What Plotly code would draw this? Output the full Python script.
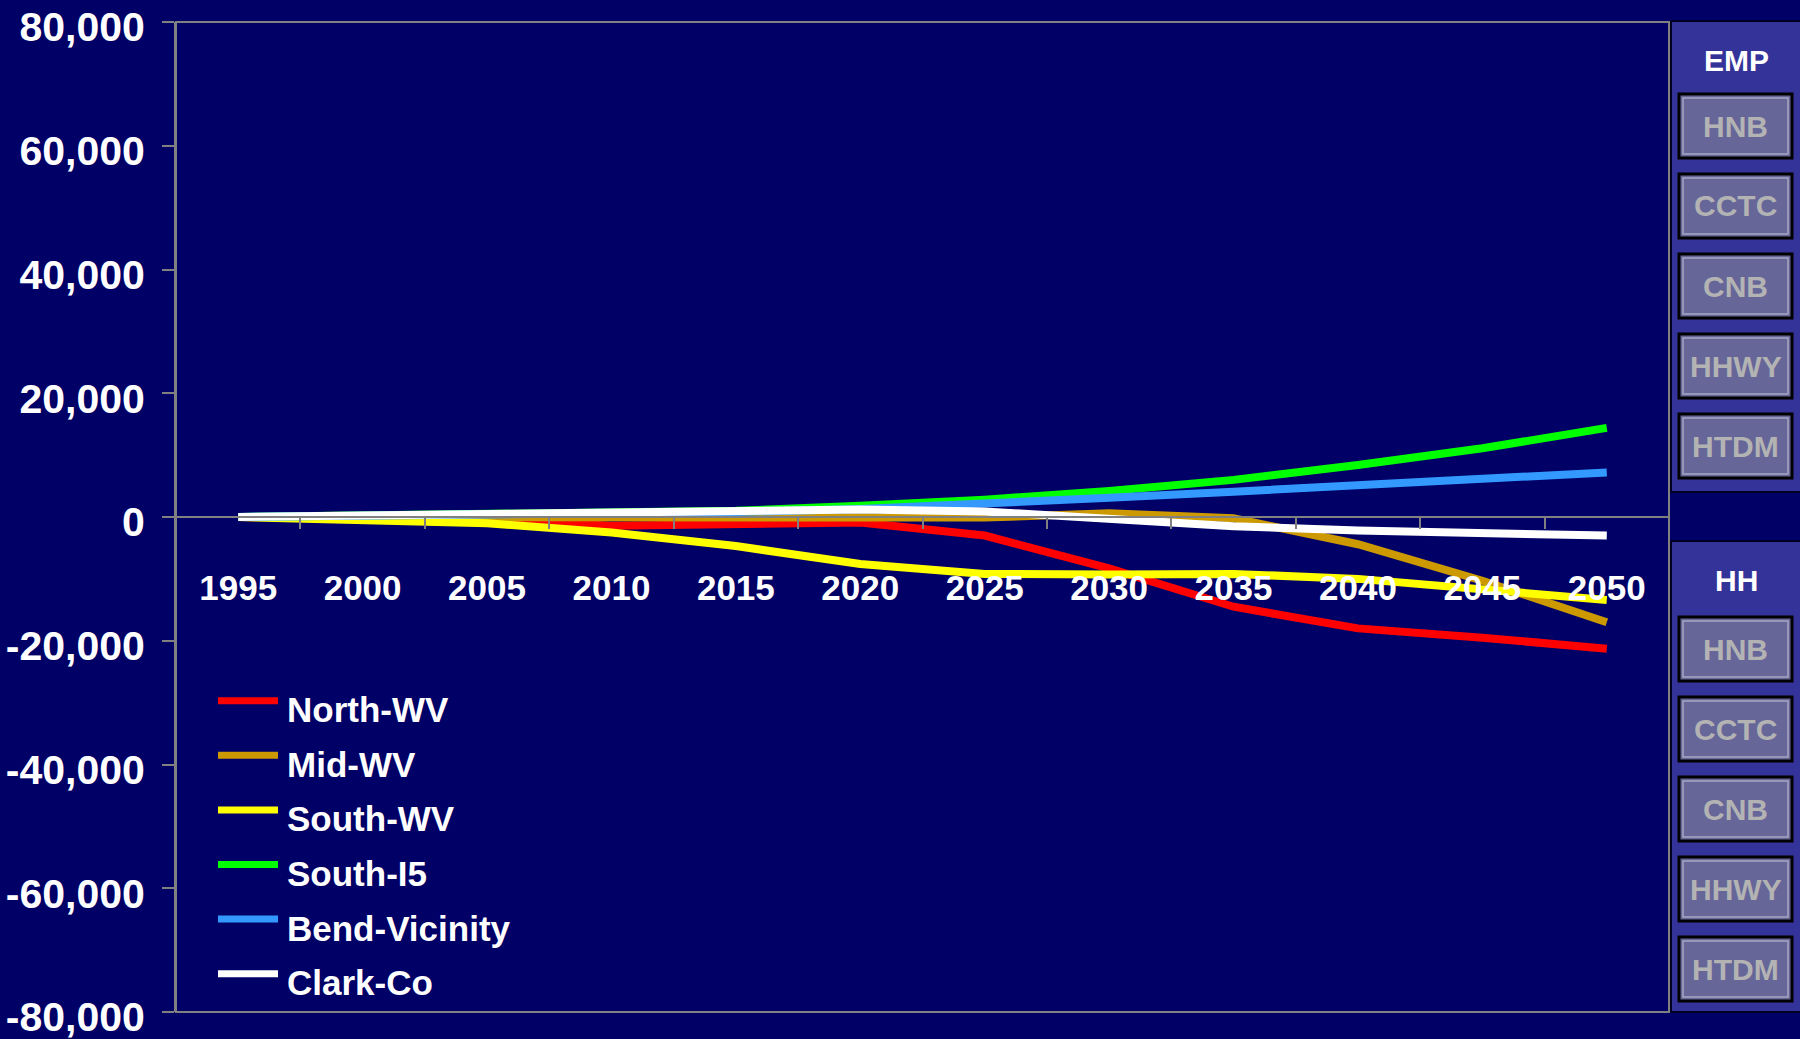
import plotly.graph_objects as go

# ---------------- data ----------------
years = ["1995", "2000", "2005", "2010", "2015", "2020", "2025", "2030", "2035", "2040", "2045", "2050"]
north_wv = [0, -100, -300, -1400, -1100, -900, -3000, -8300, -14500, -18000, -19500, -21300]
mid_wv = [0, 0, -100, -200, -300, -200, -100, 600, -200, -4400, -10300, -17000]
south_wv = [0, -500, -1000, -2500, -4700, -7600, -9200, -9300, -9200, -10000, -11600, -13400]
south_i5 = [0, 200, 400, 700, 1000, 1800, 2800, 4200, 6000, 8400, 11100, 14400]
bend_vicinity = [0, 150, 300, 500, 800, 1300, 2100, 3100, 4100, 5200, 6200, 7200]
clark_co = [0, 250, 450, 700, 1000, 1200, 900, -300, -1500, -2200, -2600, -3000]

series_names = ["North-WV", "Mid-WV", "South-WV", "South-I5", "Bend-Vicinity", "Clark-Co"]
series_values = [north_wv, mid_wv, south_wv, south_i5, bend_vicinity, clark_co]
series_colors = ["#FF0000", "#CC9900", "#FFFF00", "#00FF00", "#3399FF", "#FFFFFF"]

y_tick_vals = [80000, 60000, 40000, 20000, 0, -20000, -40000, -60000, -80000]
y_tick_text = ["80,000", "60,000", "40,000", "20,000", "0", "-20,000", "-40,000", "-60,000", "-80,000"]

panel_titles = ["EMP", "HH"]
button_labels = ["HNB", "CCTC", "CNB", "HHWY", "HTDM"]

# ---------------- layout geometry ----------------
W, H = 1800, 1039
L, R, T, B = 176, 131, 22, 27
PW, PH = W - L - R, H - T - B
BG = "#000066"
GRAY = "#808080"
SANS = "Liberation Sans, Arial, sans-serif"


def px(x):
    return (x - L) / PW


def py(y):
    return (H - B - y) / PH


fig = go.Figure()
for name, vals, col in zip(series_names, series_values, series_colors):
    fig.add_trace(go.Scatter(x=years, y=vals, mode="lines", name=name,
                             line=dict(color=col, width=8), showlegend=False,
                             hoverinfo="skip"))

shapes = []
annotations = []

# plot frame
shapes.append(dict(type="rect", xref="paper", yref="paper", x0=0, x1=1, y0=0, y1=1,
                   line=dict(color=GRAY, width=2), layer="below"))

# custom legend
leg_y0, leg_dy = 700.7, 54.6
for i, (name, col) in enumerate(zip(series_names, series_colors)):
    ly = leg_y0 + i * leg_dy
    shapes.append(dict(type="line", xref="paper", yref="paper",
                       x0=px(218), x1=px(278), y0=py(ly), y1=py(ly),
                       line=dict(color=col, width=7)))
    annotations.append(dict(xref="paper", yref="paper", x=px(285), y=py(ly + 9),
                            xanchor="left", yanchor="middle", showarrow=False,
                            text=name, font=dict(family=SANS, size=35, color="white", weight="bold")))

# right-hand navigation panels
panel_tops = [21, 541]
title_centers = [60, 580]
button_tops = [94, 617]
for p in range(2):
    shapes.append(dict(type="rect", xref="paper", yref="paper",
                       x0=px(1671), x1=px(1803), y0=py(panel_tops[p]), y1=py(panel_tops[p] + 471),
                       fillcolor="#333399", line=dict(color="#000022", width=2)))
    annotations.append(dict(xref="paper", yref="paper", x=px(1736), y=py(title_centers[p]),
                            xanchor="center", yanchor="middle", showarrow=False,
                            text=panel_titles[p], font=dict(family=SANS, size=30, color="white", weight="bold")))
    for j, lab in enumerate(button_labels):
        t0 = button_tops[p] + j * 80
        b0 = t0 + 64
        shapes.append(dict(type="rect", xref="paper", yref="paper",
                           x0=px(1679), x1=px(1792), y0=py(t0), y1=py(b0),
                           fillcolor="#666699", line=dict(color="#000000", width=3)))
        shapes.append(dict(type="rect", xref="paper", yref="paper",
                           x0=px(1683), x1=px(1788), y0=py(t0 + 4), y1=py(b0 - 4),
                           line=dict(color="#a6a6c4", width=1.5)))
        annotations.append(dict(xref="paper", yref="paper", x=px(1735.5), y=py((t0 + b0) / 2),
                                xanchor="center", yanchor="middle", showarrow=False,
                                text=lab, font=dict(family=SANS, size=30, color="#b3b3b3", weight="bold")))

fig.update_layout(
    template="none",
    width=W, height=H,
    margin=dict(l=L, r=R, t=T, b=B, pad=0, autoexpand=False),
    paper_bgcolor=BG, plot_bgcolor=BG,
    showlegend=False,
    shapes=shapes, annotations=annotations,
    xaxis=dict(type="category", range=[-0.5, 11.5], anchor="free", position=0.5,
               automargin=False,
               showline=True, linecolor=GRAY, linewidth=2,
               ticks="outside", tickson="boundaries", ticklen=11, tickcolor=GRAY, tickwidth=1.5,
               showgrid=False, zeroline=False, ticklabelstandoff=40,
               tickfont=dict(family=SANS, size=35, color="white", weight="bold")),
    yaxis=dict(range=[-80000, 80000], tickvals=y_tick_vals, ticktext=y_tick_text,
               automargin=False, ticklabeloverflow="allow", ticklabelshift=5,
               showline=True, linecolor=GRAY, linewidth=2,
               ticks="outside", ticklen=12, tickcolor=GRAY, tickwidth=1.5,
               showgrid=False, zeroline=False, ticklabelstandoff=9,
               tickfont=dict(family=SANS, size=41, color="white", weight="bold")),
)

fig.write_html("out.html", config={"displayModeBar": False},
               post_script="document.body.style.margin='0';document.body.style.overflow='hidden';")
